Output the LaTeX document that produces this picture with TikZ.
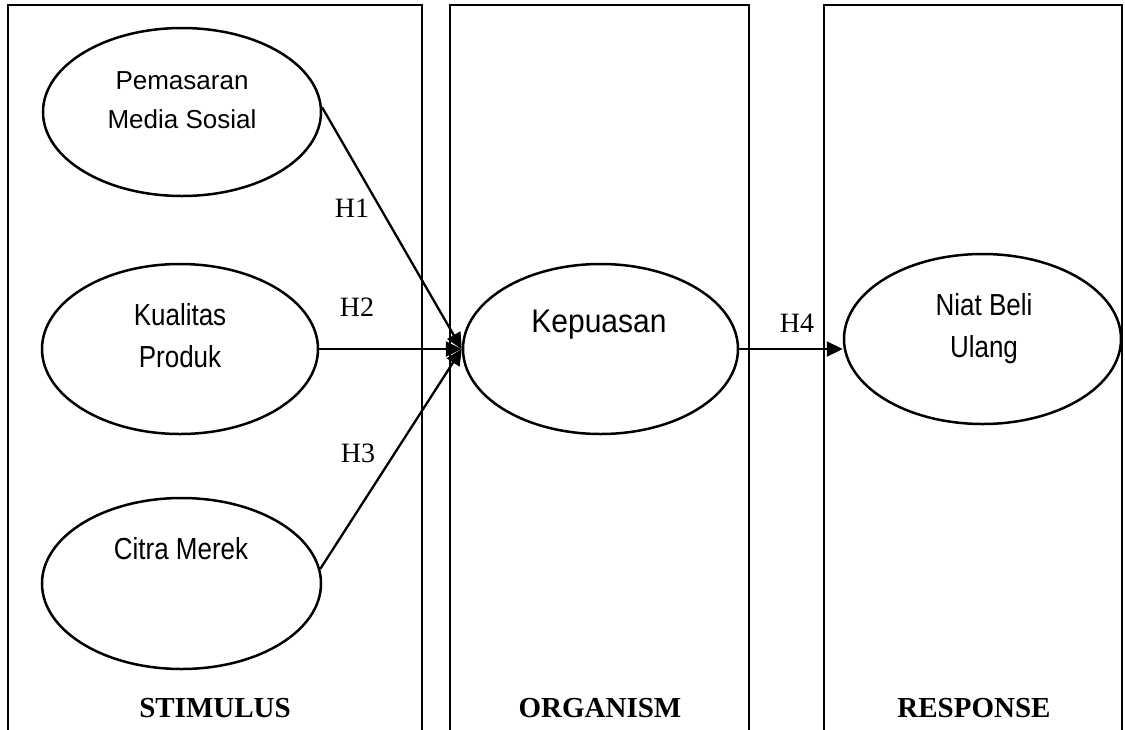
\documentclass[tikz,border=0pt]{standalone}
\usepackage{graphicx}
\usepackage{fontspec}
\setmainfont{Liberation Serif}
\newfontfamily\arialfont{Liberation Sans}
\usetikzlibrary{arrows.meta,shapes.geometric}
\newcommand\vst[1]{\scalebox{1}[1.17]{#1}}
\newcommand\vsk[1]{\scalebox{1}[1.09]{#1}}
\tikzset{
  colbox/.style={line width=2pt, line join=miter},
  oval/.style={draw, ellipse, line width=2.5pt, inner sep=0pt},
  ovaltext/.style={anchor=base, align=center, inner sep=0pt,
    font=\arialfont\fontsize{26}{42}\selectfont},
  hyp/.style={anchor=base, inner sep=0pt, font=\fontsize{28}{32}\selectfont},
  coltitle/.style={anchor=base, inner sep=0pt, font=\bfseries\fontsize{29}{33}\selectfont},
  link/.style={line width=2.3pt, -{Triangle[length=16pt,width=15pt]}}
}
\begin{document}
\begin{tikzpicture}[x=1pt, y=-1pt]
\useasboundingbox (0,0) rectangle (1125,729);
% column frames (open at bottom)
\draw[colbox] (8,732) -- (8,5) -- (422,5) -- (422,732);
\draw[colbox] (450,732) -- (450,5) -- (749,5) -- (749,732);
\draw[colbox] (824,732) -- (824,5) -- (1122,5) -- (1122,732);
% ellipses
\node[oval, minimum width=278pt, minimum height=168pt] (pms) at (182,112) {};
\node[oval, minimum width=276pt, minimum height=170pt] (kua) at (180,349) {};
\node[oval, minimum width=279pt, minimum height=171pt] (cit) at (181.5,583.5) {};
\node[oval, minimum width=275pt, minimum height=170pt] (kep) at (600.5,349) {};
\node[oval, minimum width=277pt, minimum height=170pt] (nia) at (982.5,339) {};
% ellipse texts (anchor = baseline of the last line)
\node[ovaltext, font=\arialfont\fontsize{26}{39}\selectfont] (pmst) at (182,128) {Pemasaran\\Media Sosial};
\node[ovaltext] (kuat) at (180,367) {\vst{Kualitas}\\\vst{Produk}};
\node[ovaltext] (citt) at (181,559) {\vst{Citra Merek}};
\node[ovaltext, font=\arialfont\fontsize{30}{36}\selectfont] (kept) at (599,332) {\vsk{Kepuasan}};
\node[ovaltext] (niat) at (984,357) {\vst{Niat Beli}\\\vst{Ulang}};
% connectors
\draw[link] (pms.2) -- (kep.west);
\draw[link] (kua.east) -- (kep.west);
\draw[link] (cit.6) -- (kep.west);
\draw[link] (kep.east) -- (kep.east -| nia.west);
% hypothesis labels
\node[hyp] (h1) at (352,217) {H1};
\node[hyp] (h2) at (357,316) {H2};
\node[hyp] (h3) at (358,462) {H3};
\node[hyp] (h4) at (797,332) {H4};
% column titles
\node[coltitle] (sti) at (215,717) {STIMULUS};
\node[coltitle] (org) at (600,717) {ORGANISM};
\node[coltitle] (res) at (974,717) {RESPONSE};
\end{tikzpicture}
\end{document}
